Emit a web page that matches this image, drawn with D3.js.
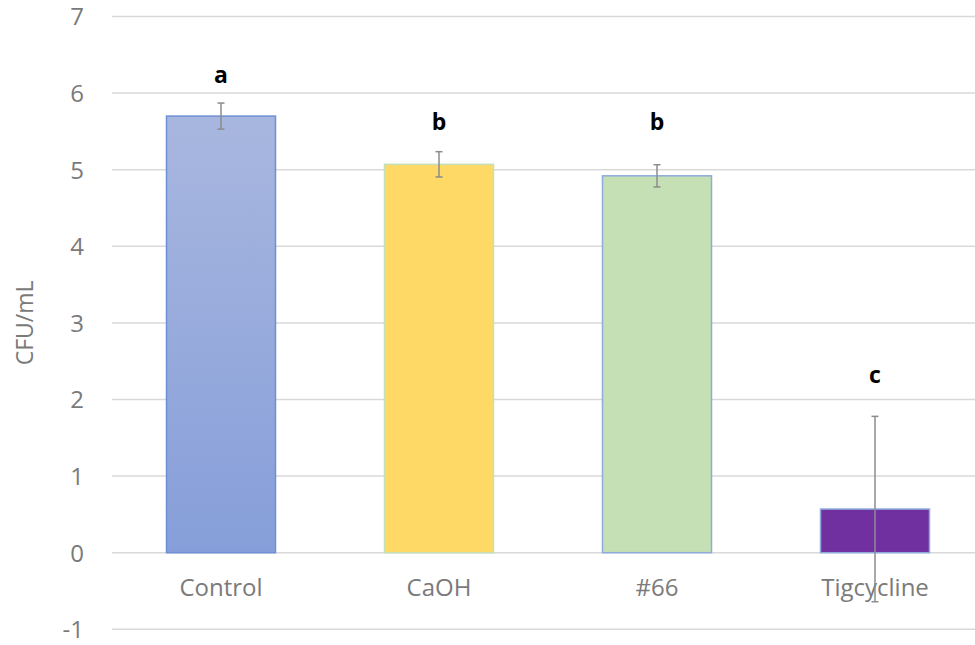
<!DOCTYPE html>
<html>
<head>
<meta charset="utf-8">
<script src="https://cdn.jsdelivr.net/npm/d3@7"></script>
<style>
  html, body { margin: 0; padding: 0; background: #fff; }
  svg { display: block; }
</style>
</head>
<body>
<svg id="chart" width="975" height="645"></svg>
<script>
// ---- data ----
const categories = ["Control", "CaOH", "#66", "Tigcycline"];
const means = [5.70, 5.07, 4.92, 0.57];
const errors = [0.17, 0.165, 0.145, 1.21];
const letters = ["a", "b", "b", "c"];
const letterAt = [6.13, 5.52, 5.52, 2.22];   // label anchor in data units
const yTicks = [-1, 0, 1, 2, 3, 4, 5, 6, 7];
const yTitle = "CFU/mL";

// ---- styles ----
const fills = ["url(#ctrlGrad)", "#ffd966", "#c5e0b4", "#7030a0"];
const strokes = ["#6f8fd5", "#c5e0b4", "#8faadc", "#8faadc"];

const svg = d3.select("#chart");
const defs = svg.append("defs");
const grad = defs.append("linearGradient").attr("id", "ctrlGrad")
  .attr("x1", 0).attr("y1", 0).attr("x2", 0).attr("y2", 1);
grad.append("stop").attr("offset", "0%").attr("stop-color", "#a8b7df");
grad.append("stop").attr("offset", "100%").attr("stop-color", "#869ed9");

const left = 112, right = 984;
const y = d3.scaleLinear().domain([-1, 7]).range([629.3, 16.5]);
const x = d3.scaleBand().domain(categories).range([left, right])
  .paddingInner(0.5).paddingOuter(0.25);

const font = "'Open Sans', 'Liberation Sans', sans-serif";

// gridlines
svg.append("g").selectAll("line").data(yTicks).join("line")
  .attr("x1", left).attr("x2", 975)
  .attr("y1", d => y(d)).attr("y2", d => y(d))
  .attr("stroke", "#d9d9d9").attr("stroke-width", 1.5);

// y axis labels
const yAxis = d3.axisLeft(y).tickValues(yTicks).tickSize(0).tickPadding(0)
  .tickFormat(d => String(d));
const gy = svg.append("g").attr("transform", `translate(84,0)`).call(yAxis);
gy.select(".domain").remove();
gy.selectAll("text").attr("font-family", font).attr("font-size", 24)
  .attr("fill", "#7a7a7a").attr("dy", "0.35em");

// y title
svg.append("text")
  .attr("transform", `translate(33,${y(3.0)}) rotate(-90)`)
  .attr("text-anchor", "middle")
  .attr("font-family", font).attr("font-size", 23).attr("fill", "#7a7a7a")
  .text(yTitle);

// bars
svg.append("g").selectAll("rect").data(categories).join("rect")
  .attr("x", d => x(d))
  .attr("width", x.bandwidth())
  .attr("y", (d, i) => y(Math.max(0, means[i])))
  .attr("height", (d, i) => Math.abs(y(means[i]) - y(0)))
  .attr("fill", (d, i) => fills[i])
  .attr("stroke", (d, i) => strokes[i])
  .attr("stroke-width", 1.5);

// x axis labels
const xAxis = d3.axisBottom(x).tickSize(0).tickPadding(0);
const gx = svg.append("g").attr("transform", `translate(0,${y(0)})`).call(xAxis);
gx.select(".domain").remove();
gx.selectAll("text").attr("font-family", font).attr("font-size", 24)
  .attr("fill", "#7a7a7a").attr("dy", "0").attr("y", 43);

// error bars
const eg = svg.append("g").attr("stroke", "#8c8c8c").attr("stroke-width", 1.5);
categories.forEach((c, i) => {
  const cx = x(c) + x.bandwidth() / 2;
  const hi = y(means[i] + errors[i]), lo = y(means[i] - errors[i]);
  eg.append("line").attr("x1", cx).attr("x2", cx).attr("y1", hi).attr("y2", lo);
  eg.append("line").attr("x1", cx - 3.5).attr("x2", cx + 3.5).attr("y1", hi).attr("y2", hi);
  eg.append("line").attr("x1", cx - 3.5).attr("x2", cx + 3.5).attr("y1", lo).attr("y2", lo);
});

// significance letters
svg.append("g").selectAll("text").data(categories).join("text")
  .attr("x", d => x(d) + x.bandwidth() / 2)
  .attr("y", (d, i) => y(letterAt[i]))
  .attr("text-anchor", "middle")
  .attr("font-family", font).attr("font-weight", "bold").attr("font-size", 23)
  .attr("fill", "#000")
  .text((d, i) => letters[i]);
</script>
</body>
</html>
